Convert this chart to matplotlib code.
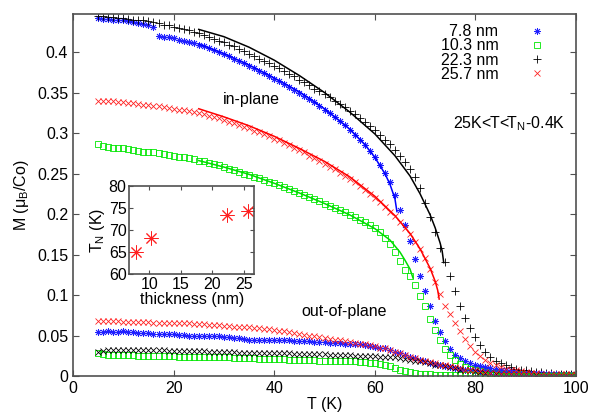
import numpy as np
import matplotlib
matplotlib.use("Agg")
from matplotlib import pyplot as plt
from matplotlib.ticker import FormatStrFormatter

plt.rcParams['font.family'] = ['Liberation Sans', 'DejaVu Sans']
plt.rcParams['font.size'] = 11.5

# temperature grid (K)
T = np.arange(5, 101)

# in-plane M (muB/Co)
m_78 = [0.442, 0.441, 0.441, 0.440, 0.440, 0.439, 0.438, 0.437, 0.436, 0.435,
        0.433, 0.431, 0.420, 0.419, 0.418, 0.417, 0.415, 0.414, 0.412, 0.411,
        0.409, 0.407, 0.405, 0.403, 0.400, 0.398, 0.395, 0.392, 0.389, 0.386,
        0.383, 0.380, 0.377, 0.374, 0.370, 0.367, 0.364, 0.360, 0.357, 0.353,
        0.350, 0.346, 0.342, 0.338, 0.334, 0.329, 0.325, 0.320, 0.315, 0.310,
        0.304, 0.298, 0.292, 0.285, 0.278, 0.270, 0.261, 0.251, 0.239, 0.224,
        0.205, 0.186, 0.167, 0.144, 0.124, 0.105, 0.086, 0.068, 0.054, 0.043,
        0.033, 0.026, 0.022, 0.019, 0.016, 0.014, 0.012, 0.011, 0.010, 0.009,
        0.008, 0.007, 0.007, 0.006, 0.005, 0.005, 0.004, 0.004, 0.004, 0.003,
        0.003, 0.003, 0.002, 0.002, 0.002, 0.002]
m_103 = [0.286, 0.284, 0.283, 0.282, 0.282, 0.281, 0.280, 0.279, 0.278, 0.277,
         0.277, 0.276, 0.275, 0.274, 0.273, 0.272, 0.271, 0.270, 0.269, 0.268,
         0.266, 0.265, 0.263, 0.262, 0.260, 0.258, 0.256, 0.254, 0.252, 0.250,
         0.248, 0.246, 0.244, 0.242, 0.240, 0.238, 0.236, 0.233, 0.231, 0.229,
         0.226, 0.224, 0.221, 0.218, 0.216, 0.213, 0.210, 0.207, 0.205, 0.202,
         0.199, 0.196, 0.193, 0.190, 0.186, 0.183, 0.178, 0.171, 0.163, 0.153,
         0.142, 0.131, 0.123, 0.112, 0.099, 0.086, 0.071, 0.057, 0.044, 0.033,
         0.026, 0.020, 0.015, 0.011, 0.009, 0.007, 0.006, 0.005, 0.004, 0.004,
         0.003, 0.003, 0.002, 0.002, 0.002, 0.002, 0.001, 0.001, 0.001, 0.001,
         0.001, 0.001, 0.001, 0.001, 0.001, 0.001]
m_223 = [0.444, 0.444, 0.443, 0.443, 0.442, 0.442, 0.441, 0.440, 0.439, 0.439,
         0.438, 0.437, 0.436, 0.434, 0.433, 0.431, 0.430, 0.428, 0.427, 0.425,
         0.423, 0.421, 0.419, 0.416, 0.414, 0.412, 0.409, 0.407, 0.404, 0.401,
         0.398, 0.395, 0.392, 0.389, 0.386, 0.383, 0.380, 0.376, 0.373, 0.370,
         0.366, 0.363, 0.359, 0.355, 0.352, 0.348, 0.344, 0.340, 0.336, 0.332,
         0.327, 0.323, 0.319, 0.314, 0.309, 0.304, 0.298, 0.292, 0.286, 0.279,
         0.272, 0.264, 0.256, 0.246, 0.232, 0.214, 0.196, 0.178, 0.158, 0.141,
         0.123, 0.105, 0.087, 0.072, 0.059, 0.048, 0.038, 0.030, 0.024, 0.019,
         0.016, 0.013, 0.011, 0.009, 0.008, 0.007, 0.006, 0.005, 0.005, 0.004,
         0.004, 0.003, 0.003, 0.003, 0.002, 0.002]
m_257 = [0.340, 0.340, 0.339, 0.339, 0.338, 0.338, 0.337, 0.337, 0.336, 0.335,
         0.335, 0.334, 0.333, 0.332, 0.331, 0.330, 0.329, 0.328, 0.327, 0.326,
         0.325, 0.323, 0.321, 0.320, 0.318, 0.316, 0.314, 0.312, 0.310, 0.308,
         0.306, 0.303, 0.301, 0.299, 0.296, 0.293, 0.291, 0.288, 0.285, 0.282,
         0.279, 0.276, 0.272, 0.269, 0.266, 0.262, 0.258, 0.255, 0.251, 0.247,
         0.243, 0.239, 0.234, 0.230, 0.225, 0.220, 0.215, 0.209, 0.203, 0.197,
         0.190, 0.183, 0.175, 0.166, 0.157, 0.146, 0.132, 0.116, 0.101, 0.087,
         0.077, 0.066, 0.056, 0.046, 0.037, 0.030, 0.025, 0.020, 0.016, 0.013,
         0.011, 0.009, 0.008, 0.007, 0.006, 0.005, 0.004, 0.004, 0.003, 0.003,
         0.003, 0.002, 0.002, 0.002, 0.002, 0.001]

# out-of-plane M (muB/Co)
op_78 = [0.054, 0.054, 0.055, 0.054, 0.054, 0.055, 0.054, 0.054, 0.053, 0.053,
         0.053, 0.052, 0.052, 0.052, 0.052, 0.052, 0.051, 0.051, 0.050, 0.050,
         0.050, 0.050, 0.049, 0.049, 0.049, 0.048, 0.048, 0.047, 0.047, 0.046,
         0.045, 0.045, 0.045, 0.045, 0.045, 0.044, 0.044, 0.044, 0.044, 0.043,
         0.043, 0.043, 0.043, 0.042, 0.042, 0.042, 0.041, 0.041, 0.041, 0.040,
         0.040, 0.039, 0.039, 0.038, 0.037, 0.036, 0.035, 0.034, 0.032, 0.030,
         0.028, 0.026, 0.024, 0.022, 0.020, 0.018, 0.016, 0.015, 0.013, 0.012,
         0.011, 0.010, 0.009, 0.008, 0.008, 0.007, 0.006, 0.006, 0.005, 0.005,
         0.004, 0.004, 0.004, 0.003, 0.003, 0.003, 0.003, 0.002, 0.002, 0.002,
         0.002, 0.002, 0.001, 0.001, 0.001, 0.001]
op_103 = [0.029, 0.027, 0.026, 0.026, 0.026, 0.026, 0.026, 0.026, 0.025, 0.025,
          0.025, 0.025, 0.025, 0.025, 0.025, 0.025, 0.024, 0.024, 0.024, 0.024,
          0.024, 0.024, 0.023, 0.023, 0.023, 0.023, 0.023, 0.022, 0.022, 0.022,
          0.022, 0.022, 0.021, 0.021, 0.021, 0.021, 0.021, 0.021, 0.020, 0.020,
          0.020, 0.020, 0.020, 0.020, 0.019, 0.019, 0.019, 0.019, 0.018, 0.018,
          0.018, 0.018, 0.017, 0.017, 0.016, 0.016, 0.015, 0.014, 0.012, 0.010,
          0.008, 0.006, 0.005, 0.004, 0.003, 0.002, 0.002, 0.001, 0.001, 0.001,
          0.001, 0.001, 0.001, 0.001, 0.001, 0.001, 0.001, 0.001, 0.001, 0.001,
          0.000, 0.000, 0.000, 0.000, 0.000, 0.000, 0.000, 0.000, 0.000, 0.000,
          0.000, 0.000, 0.000, 0.000, 0.000, 0.000]
op_223 = [0.030, 0.031, 0.032, 0.032, 0.032, 0.032, 0.032, 0.032, 0.032, 0.032,
          0.032, 0.032, 0.032, 0.032, 0.031, 0.031, 0.031, 0.031, 0.031, 0.031,
          0.031, 0.031, 0.030, 0.030, 0.030, 0.030, 0.030, 0.030, 0.029, 0.029,
          0.029, 0.029, 0.028, 0.028, 0.028, 0.028, 0.028, 0.028, 0.028, 0.027,
          0.027, 0.027, 0.027, 0.027, 0.027, 0.027, 0.026, 0.026, 0.026, 0.026,
          0.026, 0.025, 0.025, 0.025, 0.025, 0.025, 0.024, 0.024, 0.023, 0.023,
          0.022, 0.021, 0.020, 0.019, 0.018, 0.017, 0.016, 0.014, 0.013, 0.012,
          0.011, 0.010, 0.008, 0.007, 0.007, 0.006, 0.005, 0.004, 0.004, 0.003,
          0.003, 0.003, 0.002, 0.002, 0.002, 0.002, 0.002, 0.001, 0.001, 0.001,
          0.001, 0.001, 0.001, 0.001, 0.001, 0.001]
op_257 = [0.068, 0.068, 0.068, 0.068, 0.068, 0.067, 0.067, 0.067, 0.067, 0.067,
          0.067, 0.066, 0.066, 0.066, 0.066, 0.066, 0.065, 0.065, 0.065, 0.064,
          0.064, 0.064, 0.063, 0.063, 0.063, 0.062, 0.062, 0.061, 0.061, 0.060,
          0.060, 0.059, 0.059, 0.058, 0.058, 0.057, 0.056, 0.055, 0.054, 0.053,
          0.052, 0.051, 0.050, 0.049, 0.048, 0.047, 0.046, 0.045, 0.044, 0.043,
          0.042, 0.041, 0.040, 0.039, 0.038, 0.037, 0.035, 0.034, 0.032, 0.030,
          0.028, 0.026, 0.024, 0.022, 0.020, 0.019, 0.017, 0.016, 0.014, 0.013,
          0.012, 0.011, 0.010, 0.008, 0.007, 0.007, 0.006, 0.005, 0.004, 0.004,
          0.003, 0.003, 0.003, 0.002, 0.002, 0.002, 0.002, 0.002, 0.001, 0.001,
          0.001, 0.001, 0.001, 0.001, 0.001, 0.001]

# fits, 25K < T < TN-0.4K
fit_T_78 = [25, 30, 35, 40, 45, 50, 55, 58, 60, 62, 63, 64, 64.4]
fit_M_78 = [0.410, 0.398, 0.384, 0.368, 0.351, 0.330, 0.305, 0.286, 0.270, 0.250, 0.237, 0.219, 0.203]
fit_T_103 = [25, 30, 35, 40, 45, 50, 55, 60, 63, 65, 66, 67, 67.6]
fit_M_103 = [0.266, 0.258, 0.249, 0.238, 0.226, 0.213, 0.199, 0.182, 0.168, 0.153, 0.143, 0.132, 0.121]
fit_T_223 = [25, 30, 35, 40, 45, 50, 55, 60, 64, 67, 69, 71, 72, 73, 73.4, 73.7]
fit_M_223 = [0.428, 0.419, 0.406, 0.390, 0.371, 0.350, 0.326, 0.299, 0.272, 0.247, 0.225, 0.199, 0.183, 0.164, 0.154, 0.140]
fit_T_257 = [25, 30, 35, 40, 45, 50, 55, 60, 64, 67, 69, 71, 72, 72.5, 72.8]
fit_M_257 = [0.330, 0.320, 0.309, 0.296, 0.281, 0.265, 0.246, 0.222, 0.198, 0.176, 0.157, 0.133, 0.117, 0.106, 0.095]

# inset
thickness = [7.8, 10.3, 22.3, 25.7]
TN = [65.0, 68.2, 73.3, 74.3]

blue, green, red = '#2020ff', '#00e600', '#ff2020'
star = (8, 2, 0)
ms = 5
mw = 0.6
fig = plt.figure(figsize=(5.92, 4.15), dpi=100)
ax = fig.add_axes([73/592, 1-376/415, 503/592, 362/415])

ax.plot(T, m_78, ls='none', marker=star, ms=ms, mew=mw, color=blue, label='7.8 nm')
ax.plot(T, m_103, ls='none', marker='s', ms=ms, mew=mw, mfc='none', color=green, label='10.3 nm')
ax.plot(T, m_223, ls='none', marker='+', ms=ms+1, mew=mw, color='black', label='22.3 nm')
ax.plot(T, m_257, ls='none', marker='x', ms=ms, mew=mw, color=red, label='25.7 nm')

ax.plot(T, op_78, ls='none', marker=star, ms=ms, mew=mw, color=blue)
ax.plot(T, op_103, ls='none', marker='s', ms=ms, mew=mw, mfc='none', color=green)
ax.plot(T, op_223, ls='none', marker='x', ms=ms, mew=mw, color='black')
ax.plot(T, op_257, ls='none', marker='x', ms=ms, mew=mw, color=red)

ax.plot(fit_T_78, fit_M_78, color='#0000ff', lw=1.1)
ax.plot(fit_T_103, fit_M_103, color='#00dd00', lw=1.1)
ax.plot(fit_T_223, fit_M_223, color='black', lw=1.1)
ax.plot(fit_T_257, fit_M_257, color='#ff0000', lw=1.1)

ax.set_xlim(0, 100)
ax.set_ylim(0, 0.447)
ax.set_xticks([0, 20, 40, 60, 80, 100])
ax.set_yticks(np.arange(0, 0.41, 0.05))
ax.yaxis.set_major_formatter(FormatStrFormatter('%g'))
ax.tick_params(direction='in', top=True, right=True, length=4, width=0.8, color='#505050')
for s in ax.spines.values():
    s.set_color('#505050')
    s.set_linewidth(1.2)
ax.set_xlabel('T (K)', labelpad=1)
ax.set_ylabel('M (μ$_\\mathregular{B}$/Co)', labelpad=4)

ax.text(35.5, 0.341, 'in-plane', ha='center', va='center')
ax.text(54, 0.080, 'out-of-plane', ha='center', va='center')
ax.text(97.8, 0.311, '25K<T<T$_\\mathregular{N}$-0.4K', ha='right', va='center')

ax.legend(loc='upper right', bbox_to_anchor=(0.938, 0.972), markerfirst=False, frameon=False,
          numpoints=1, handlelength=1.0, handletextpad=1.9, labelspacing=-0.05,
          borderpad=0, borderaxespad=0)

ins = fig.add_axes([129.3/592, 1-274/415, 124.7/592, 88/415])
ins.plot(thickness, TN, ls='none', marker=star, ms=10, mew=0.7, color=red)
ins.set_xlim(6.8, 26.6)
ins.set_ylim(60, 80)
ins.set_xticks([10, 15, 20, 25])
ins.set_yticks([60, 65, 70, 75, 80])
ins.tick_params(direction='in', top=True, right=True, length=3, width=0.8, color='#505050', pad=2)
for s in ins.spines.values():
    s.set_color('#505050')
    s.set_linewidth(1.2)
ins.set_xlabel('thickness (nm)', labelpad=0)
ins.set_ylabel('T$_\\mathregular{N}$ (K)', labelpad=1)

fig.savefig('out.png', dpi=100)
